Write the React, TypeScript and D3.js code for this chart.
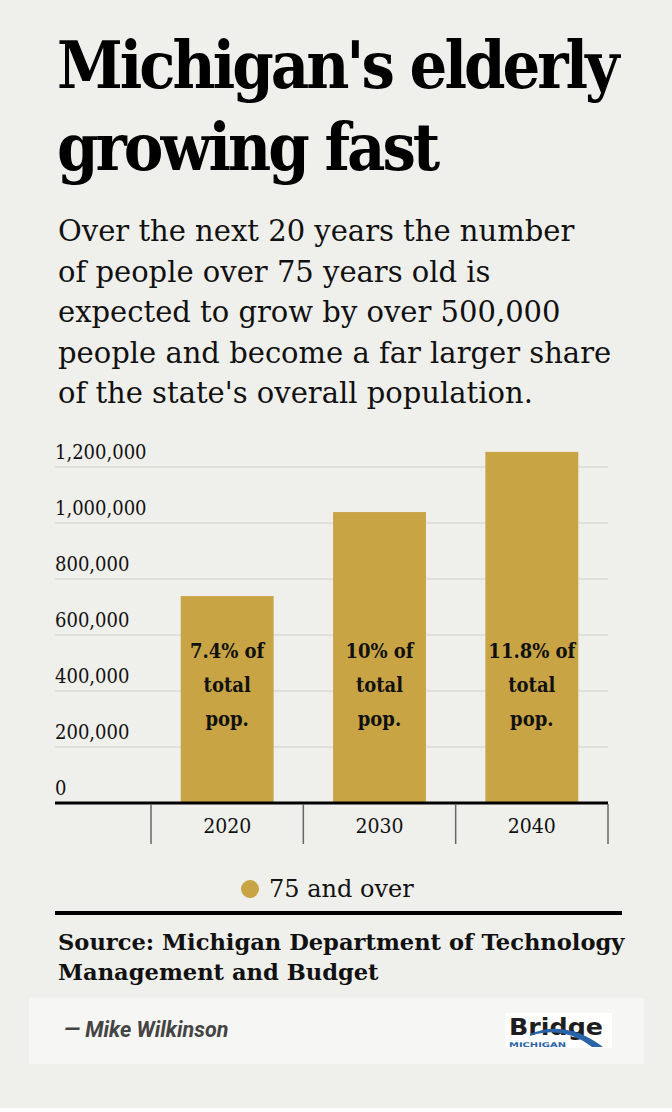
import React from "react";
import * as d3 from "d3";

const categories = ["2020", "2030", "2040"];
const values = [739000, 1039000, 1254000];
const barLabels = [
  ["7.4% of", "total", "pop."],
  ["10% of", "total", "pop."],
  ["11.8% of", "total", "pop."],
];
const yTicks = [0, 200000, 400000, 600000, 800000, 1000000, 1200000];
const seriesName = "75 and over";
const titleLines = ["Michigan's elderly", "growing fast"];
const subtitleLines = [
  "Over the next 20 years the number",
  "of people over 75 years old is",
  "expected to grow by over 500,000",
  "people and become a far larger share",
  "of the state's overall population.",
];
const sourceLines = ["Source: Michigan Department of Technology", "Management and Budget"];
const author = "— Mike Wilkinson";

const W = 672;
const H = 1112;
const BG = "#efefeb";
const GOLD = "#c8a444";
const SERIF = "'Roboto Slab', 'DejaVu Serif', serif";

export default function App() {
  const plotLeft = 55;
  const plotRight = 608;
  const catLeft = 151;
  const y = d3.scaleLinear().domain([0, 1200000]).range([803, 467]);
  const x = d3
    .scaleBand<string>()
    .domain(categories)
    .range([catLeft, plotRight])
    .paddingInner(0.39)
    .paddingOuter(0.195);
  const step = x.step();
  const fmt = d3.format(",");
  const boundaries = [...categories.map((c) => (x(c) as number) - (step * 0.39) / 2), plotRight];

  return (
    <svg
      width={W}
      height={H}
      style={{ position: "absolute", left: 0, top: 0, display: "block" }}
    >
      <rect x={0} y={0} width={W} height={H} fill="#ffffff" />
      <rect x={0} y={0} width={W} height={1108} fill={BG} />

      {/* Title */}
      {titleLines.map((t, i) => (
        <text
          key={t}
          x={57}
          y={88 + i * 82}
          fontFamily={SERIF}
          fontWeight={700}
          fontSize={66}
          letterSpacing={-3}
          style={{ fontStretch: "condensed" }}
          fill="#000"
        >
          {t}
        </text>
      ))}

      {/* Subtitle */}
      {subtitleLines.map((t, i) => (
        <text
          key={t}
          x={58}
          y={241 + i * 40.5}
          fontFamily={SERIF}
          fontSize={29}
          fill="#111"
        >
          {t}
        </text>
      ))}

      {/* Gridlines and y labels */}
      {yTicks.map((v) => (
        <g key={v}>
          {v > 0 && (
            <line x1={plotLeft} x2={plotRight} y1={y(v)} y2={y(v)} stroke="#cfcfcb" strokeWidth={1} />
          )}
          <text
            x={plotLeft}
            y={y(v) - 8}
            fontFamily={SERIF}
            fontSize={20}
            style={{ fontStretch: "condensed" }}
            fill="#111"
          >
            {fmt(v)}
          </text>
        </g>
      ))}

      {/* Bars */}
      {categories.map((c, i) => (
        <rect
          key={c}
          x={x(c) as number}
          y={y(values[i])}
          width={x.bandwidth()}
          height={y(0) - y(values[i])}
          fill={GOLD}
        />
      ))}

      {/* Bar labels */}
      {categories.map((c, i) =>
        barLabels[i].map((l, j) => (
          <text
            key={c + j}
            x={(x(c) as number) + x.bandwidth() / 2}
            y={658 + j * 34}
            textAnchor="middle"
            fontFamily={SERIF}
            fontWeight={700}
            fontSize={20}
            style={{ fontStretch: "condensed" }}
            fill="#111"
          >
            {l}
          </text>
        ))
      )}

      {/* Axis */}
      <line x1={plotLeft} x2={plotRight} y1={803} y2={803} stroke="#000" strokeWidth={3} />
      {boundaries.map((b, i) => (
        <line key={i} x1={b} x2={b} y1={804} y2={844} stroke="#666" strokeWidth={1.5} />
      ))}
      {categories.map((c) => (
        <text
          key={c}
          x={(x(c) as number) + x.bandwidth() / 2}
          y={833}
          textAnchor="middle"
          fontFamily={SERIF}
          fontSize={21}
          style={{ fontStretch: "condensed" }}
          fill="#111"
        >
          {c}
        </text>
      ))}

      {/* Legend */}
      <circle cx={250} cy={889} r={9} fill={GOLD} />
      <text x={269} y={897} fontFamily={SERIF} fontSize={24} fill="#111">
        {seriesName}
      </text>

      <line x1={55} x2={622} y1={913} y2={913} stroke="#000" strokeWidth={4} />

      {/* Source */}
      {sourceLines.map((t, i) => (
        <text
          key={t}
          x={58}
          y={950 + i * 30}
          fontFamily={SERIF}
          fontWeight={700}
          fontSize={22.6}
          fill="#111"
        >
          {t}
        </text>
      ))}

      {/* Footer */}
      <rect x={29} y={998} width={615} height={66} fill="#f6f6f4" />
      <text
        x={64}
        y={1037}
        fontFamily="Roboto, sans-serif"
        fontWeight={700}
        fontStyle="italic"
        fontSize={21.5}
        fill="#444"
      >
        {author}
      </text>

      {/* Logo */}
      <g>
        <rect x={505} y={1013} width={107} height={35} fill="#ffffff" />
        <text
          x={509}
          y={1035}
          fontFamily="'DejaVu Sans', sans-serif"
          fontWeight={700}
          fontSize={23}
          fill="#1e1e1e"
          textLength={94}
          lengthAdjust="spacingAndGlyphs"
        >
          Bridge
        </text>
        <path
          d="M 530 1034 Q 566 1019 603 1047 L 592 1047 Q 563 1025 530 1036 Z"
          fill="#2a64a6"
        />
        <text
          x={509}
          y={1046.5}
          fontFamily="'DejaVu Sans', sans-serif"
          fontWeight={700}
          fontSize={6.5}
          fill="#2a64a6"
          textLength={57}
          lengthAdjust="spacingAndGlyphs"
        >
          MICHIGAN
        </text>
      </g>
    </svg>
  );
}
